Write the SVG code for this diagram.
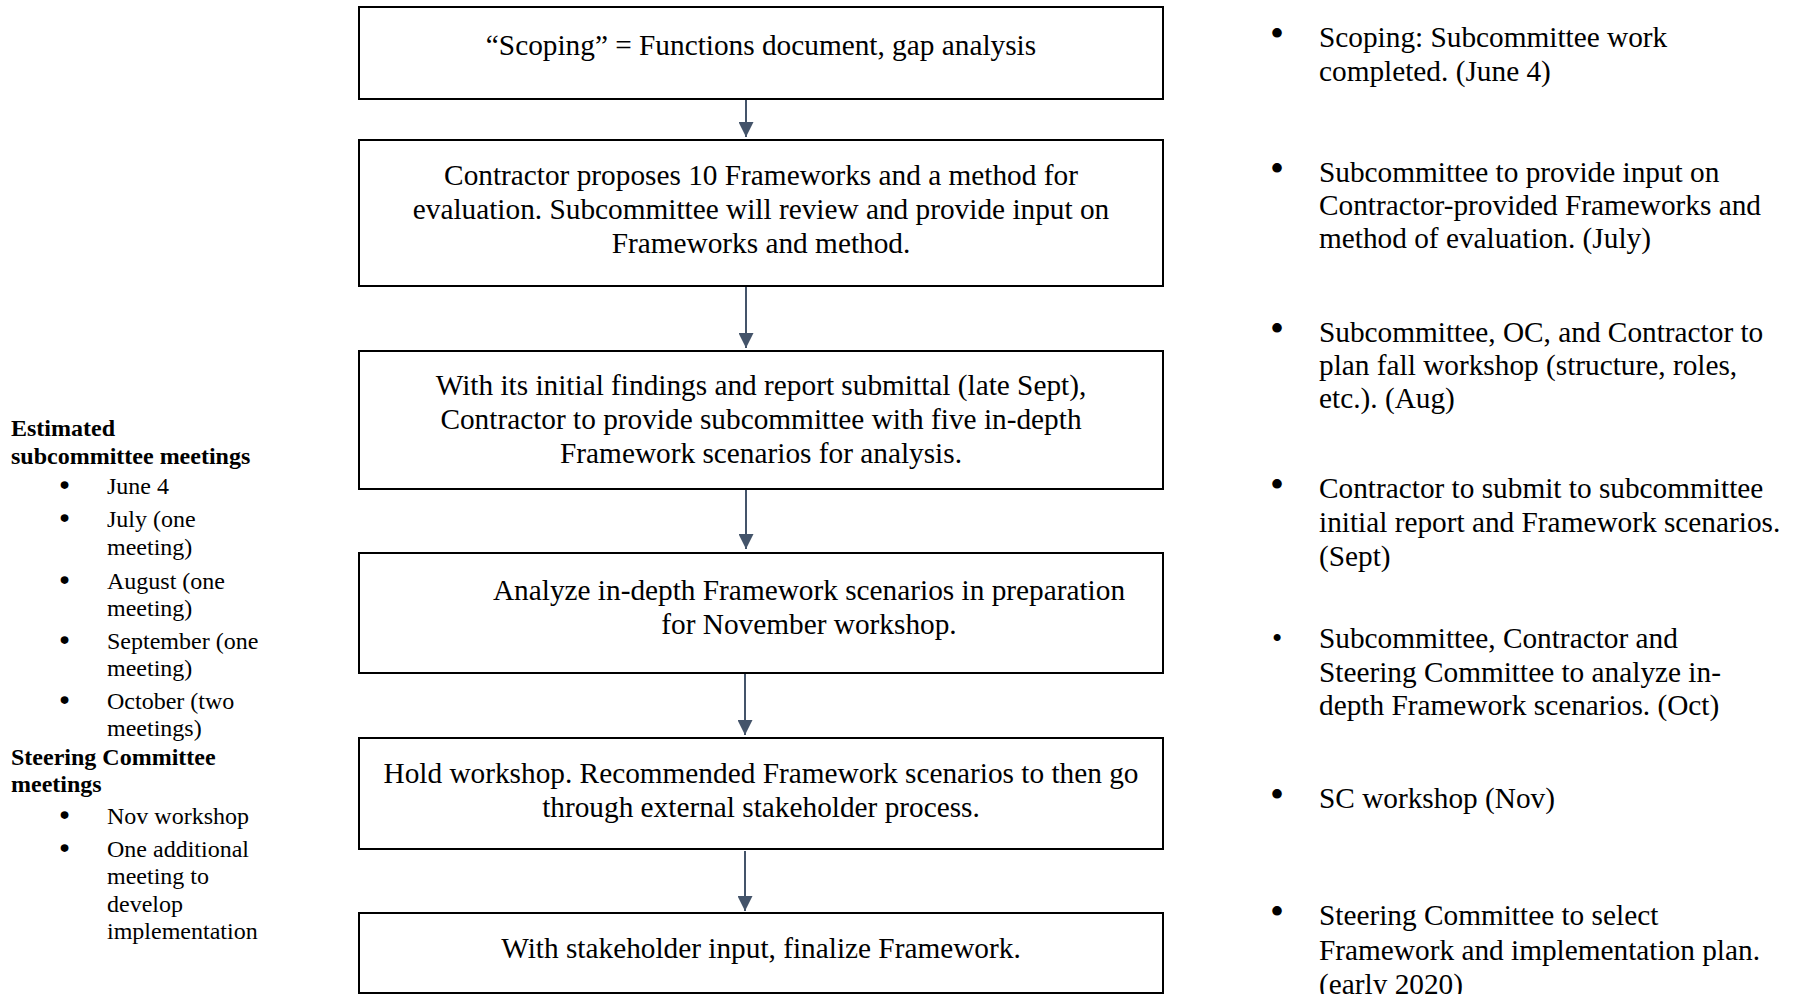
<svg xmlns="http://www.w3.org/2000/svg" width="1800" height="994" viewBox="0 0 1800 994">
<style>
.box{fill:#fff;stroke:#000;stroke-width:2}
.t{font-family:"Liberation Serif","Times New Roman",serif;font-size:29.3px;fill:#000}
.c{text-anchor:middle}
.s{font-family:"Liberation Serif","Times New Roman",serif;font-size:24px;fill:#000}
.b{font-weight:bold}
.rb{font-family:"Liberation Serif","Times New Roman",serif;font-size:40px;fill:#000}
.lb{font-family:"Liberation Serif","Times New Roman",serif;font-size:26px;fill:#000;stroke:#000;stroke-width:1.6}
.conn{stroke:#44546A;stroke-width:2;fill:none}
</style>
<defs>
<marker id="ah" viewBox="0 0 15 15" refX="15" refY="7.5" markerWidth="15" markerHeight="15" markerUnits="userSpaceOnUse" orient="auto">
<path d="M0,0 L15,7.5 L0,15 Z" fill="#44546A"/>
</marker>
</defs>
<rect width="1800" height="994" fill="#fff"/>

<g id="connectors">
<line class="conn" x1="746" y1="99" x2="746" y2="137" marker-end="url(#ah)"/>
<line class="conn" x1="746" y1="286" x2="746" y2="348" marker-end="url(#ah)"/>
<line class="conn" x1="746" y1="489" x2="746" y2="549" marker-end="url(#ah)"/>
<line class="conn" x1="745" y1="674" x2="745" y2="735" marker-end="url(#ah)"/>
<line class="conn" x1="745" y1="851" x2="745" y2="911" marker-end="url(#ah)"/>
</g>

<g id="n1">
<rect class="box" x="359" y="7" width="804" height="92"/>
<text class="t c" x="761" y="55">“Scoping” = Functions document, gap analysis</text>
</g>
<g id="n2">
<rect class="box" x="359" y="140" width="804" height="146"/>
<text class="t c" x="761" y="185">Contractor proposes 10 Frameworks and a method for</text>
<text class="t c" x="761" y="219">evaluation. Subcommittee will review and provide input on</text>
<text class="t c" x="761" y="253">Frameworks and method.</text>
</g>
<g id="n3">
<rect class="box" x="359" y="351" width="804" height="138"/>
<text class="t c" x="761" y="395">With its initial findings and report submittal (late Sept),</text>
<text class="t c" x="761" y="429">Contractor to provide subcommittee with five in-depth</text>
<text class="t c" x="761" y="463">Framework scenarios for analysis.</text>
</g>
<g id="n4">
<rect class="box" x="359" y="553" width="804" height="120"/>
<text class="t c" x="809" y="600">Analyze in-depth Framework scenarios in preparation</text>
<text class="t c" x="809" y="634">for November workshop.</text>
</g>
<g id="n5">
<rect class="box" x="359" y="738" width="804" height="111"/>
<text class="t c" x="761" y="783">Hold workshop. Recommended Framework scenarios to then go</text>
<text class="t c" x="761" y="817">through external stakeholder process.</text>
</g>
<g id="n6">
<rect class="box" x="359" y="913" width="804" height="80"/>
<text class="t c" x="761" y="958">With stakeholder input, finalize Framework.</text>
</g>

<g id="left-panel">
<text class="s b" x="11" y="436">Estimated</text>
<text class="s b" x="11" y="464">subcommittee meetings</text>
<text class="lb" x="60" y="494">•</text><text class="s" x="107" y="494">June 4</text>
<text class="lb" x="60" y="527">•</text><text class="s" x="107" y="527">July (one</text>
<text class="s" x="107" y="555">meeting)</text>
<text class="lb" x="60" y="589">•</text><text class="s" x="107" y="589">August (one</text>
<text class="s" x="107" y="616">meeting)</text>
<text class="lb" x="60" y="649">•</text><text class="s" x="107" y="649">September (one</text>
<text class="s" x="107" y="676">meeting)</text>
<text class="lb" x="60" y="709">•</text><text class="s" x="107" y="709">October (two</text>
<text class="s" x="107" y="736">meetings)</text>
<text class="s b" x="11" y="765">Steering Committee</text>
<text class="s b" x="11" y="792">meetings</text>
<text class="lb" x="60" y="824">•</text><text class="s" x="107" y="824">Nov workshop</text>
<text class="lb" x="60" y="857">•</text><text class="s" x="107" y="857">One additional</text>
<text class="s" x="107" y="884">meeting to</text>
<text class="s" x="107" y="912">develop</text>
<text class="s" x="107" y="939">implementation</text>
</g>

<g id="right-panel">
<text class="rb" x="1270" y="47">•</text><text class="t" x="1319" y="47">Scoping: Subcommittee work</text>
<text class="t" x="1319" y="81">completed. (June 4)</text>
<text class="rb" x="1270" y="182">•</text><text class="t" x="1319" y="182">Subcommittee to provide input on</text>
<text class="t" x="1319" y="215">Contractor-provided Frameworks and</text>
<text class="t" x="1319" y="248">method of evaluation. (July)</text>
<text class="rb" x="1270" y="342">•</text><text class="t" x="1319" y="342">Subcommittee, OC, and Contractor to</text>
<text class="t" x="1319" y="375">plan fall workshop (structure, roles,</text>
<text class="t" x="1319" y="408">etc.). (Aug)</text>
<text class="rb" x="1270" y="498">•</text><text class="t" x="1319" y="498">Contractor to submit to subcommittee</text>
<text class="t" x="1319" y="532">initial report and Framework scenarios.</text>
<text class="t" x="1319" y="566">(Sept)</text>
<text class="t" x="1272" y="648">•</text><text class="t" x="1319" y="648">Subcommittee, Contractor and</text>
<text class="t" x="1319" y="682">Steering Committee to analyze in-</text>
<text class="t" x="1319" y="715">depth Framework scenarios. (Oct)</text>
<text class="rb" x="1270" y="808">•</text><text class="t" x="1319" y="808">SC workshop (Nov)</text>
<text class="rb" x="1270" y="925">•</text><text class="t" x="1319" y="925">Steering Committee to select</text>
<text class="t" x="1319" y="960">Framework and implementation plan.</text>
<text class="t" x="1319" y="994">(early 2020)</text>
</g>
</svg>
